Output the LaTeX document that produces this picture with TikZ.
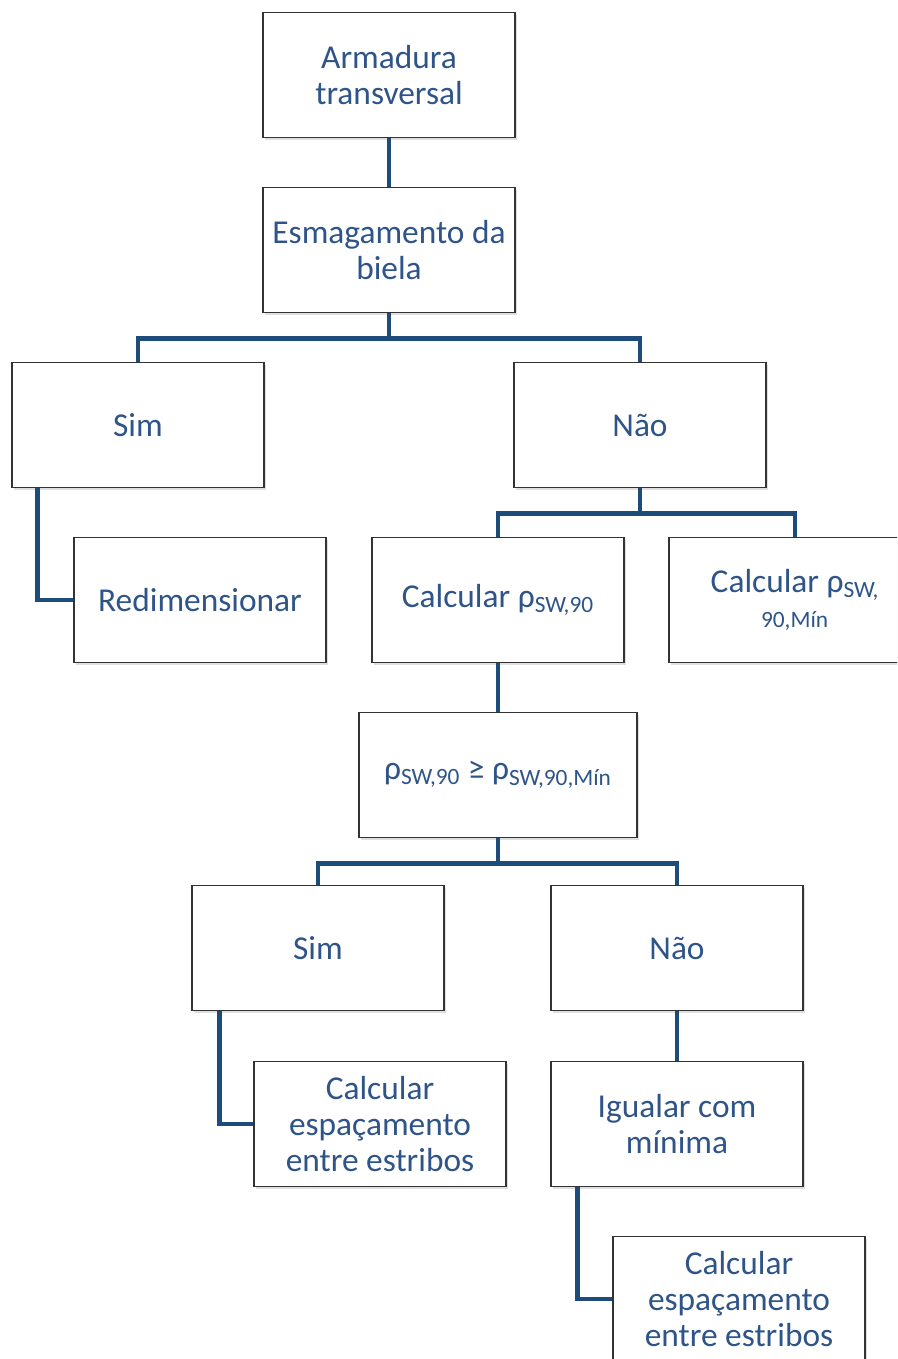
\documentclass[tikz,border=0pt]{standalone}
\usepackage{fontspec}
\setmainfont{Carlito}
\usepackage{tikz}
\usetikzlibrary{shadows}
\definecolor{txtblue}{RGB}{46,84,136}
\definecolor{linkblue}{RGB}{30,76,122}
\tikzset{
  box/.style={draw=black!80,line width=0.8pt,fill=white,minimum width=5.04cm,minimum height=2.5cm,
    inner sep=2pt,align=center,text=txtblue,font=\fontsize{19}{20.5}\selectfont,
    drop shadow={shadow xshift=1pt,shadow yshift=-1.5pt,opacity=0.25}},
  link/.style={draw=linkblue,line width=2.8pt}
}
\newcommand{\rhosub}[1]{ρ\textsubscript{#1}}

\begin{document}
\begin{tikzpicture}[x=0.02cm,y=-0.02cm]
    \useasboundingbox (0,0) rectangle (897,1359);
    \clip (0,0) rectangle (897,1359);
    \node[box] (armadura) at (389,75) {Armadura\\transversal};
    \node[box] (esmag) at (389,250) {Esmagamento da\\biela};
    \node[box] (sim1) at (138,425) {Sim};
    \node[box] (nao1) at (640,425) {Não};
    \node[box] (redim) at (200,600) {Redimensionar};
    \node[box] (calcrho) at (498,600) {Calcular \rhosub{SW,90}};
    \node[box] (calcmin) at (795,600) {Calcular \rhosub{SW,}\\[-4pt]\textsubscript{90,Mín}};
    \node[box,minimum width=5.56cm] (cond) at (498,775) {\rhosub{SW,90} ≥ \rhosub{SW,90,Mín}};
    \node[box] (sim2) at (318,948) {Sim};
    \node[box] (nao2) at (677,948) {Não};
    \node[box] (esp1) at (380,1124) {Calcular\\espaçamento\\entre estribos};
    \node[box] (igualar) at (677,1124) {Igualar com\\mínima};
    \node[box] (esp2) at (739,1299) {Calcular\\espaçamento\\entre estribos};
    % connectors
    \draw[link] (armadura) -- (esmag);
    \draw[link] (esmag.south) -- ++(0,25) -| (sim1.north);
    \draw[link] (esmag.south) -- ++(0,25) -| (nao1.north);
    \draw[link] (sim1.south west) ++(26,0) |- (redim.west);
    \draw[link] (nao1.south) -- ++(0,25) -| (calcrho.north);
    \draw[link] (nao1.south) -- ++(0,25) -| (calcmin.north);
    \draw[link] (calcrho) -- (cond);
    \draw[link] (cond.south) -- ++(0,25) -| (sim2.north);
    \draw[link] (cond.south) -- ++(0,25) -| (nao2.north);
    \draw[link] (sim2.south west) ++(28,0) |- (esp1.west);
    \draw[link] (nao2) -- (igualar);
    \draw[link] (igualar.south west) ++(27,0) |- (esp2.west);
  \end{tikzpicture}
\end{document}
